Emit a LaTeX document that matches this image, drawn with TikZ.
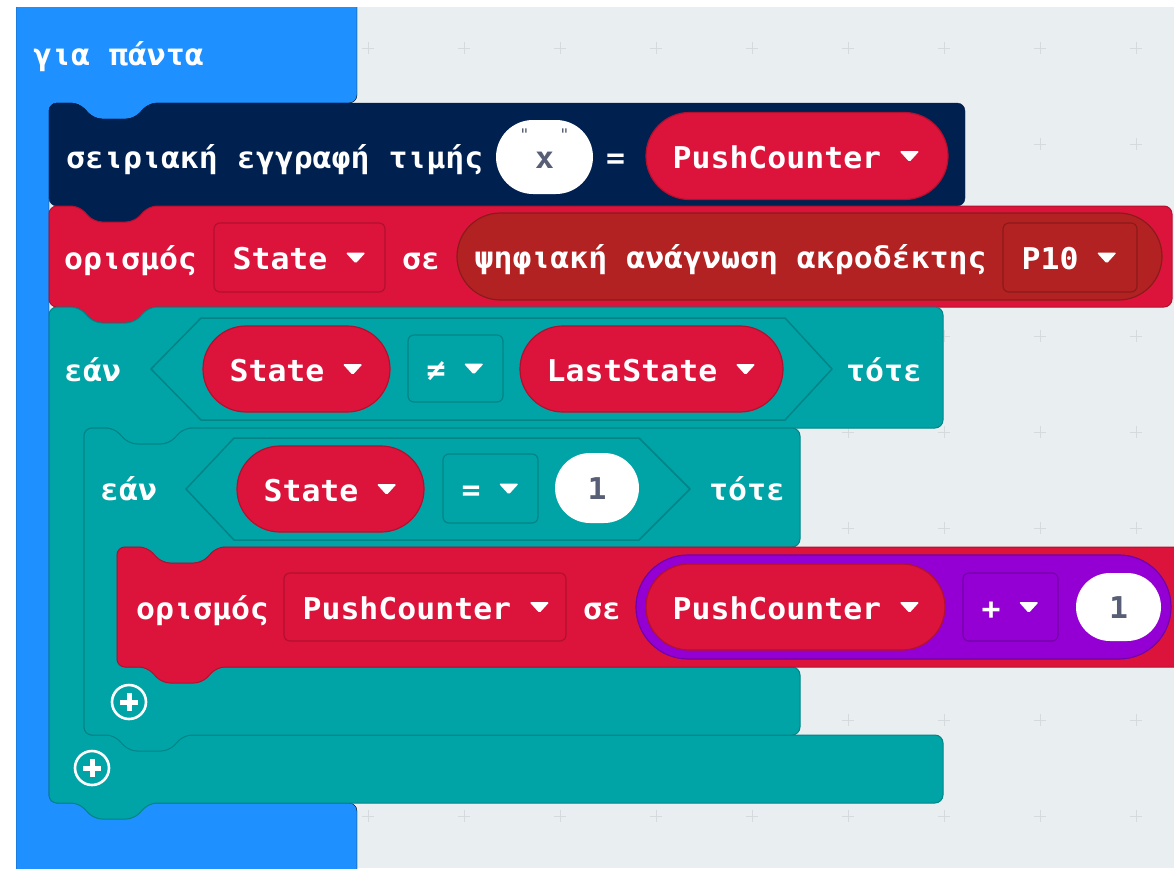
\documentclass[tikz,border=0pt]{standalone}
\usepackage{fontspec}
\usetikzlibrary{shapes.misc}
\newfontfamily\blockfont{DejaVu Sans Mono}[FakeStretch=1.05]
\newcommand{\blk}{\blockfont\bfseries\fontsize{30}{36}\selectfont}
\definecolor{loopblue}{HTML}{1E90FF}
\definecolor{serialnavy}{HTML}{002050}
\definecolor{varred}{HTML}{DC143C}
\definecolor{varline}{HTML}{B3102F}
\definecolor{pinred}{HTML}{B22222}
\definecolor{pinline}{HTML}{8C1A1A}
\definecolor{logicteal}{HTML}{00A4A6}
\definecolor{logicline}{HTML}{008486}
\definecolor{mathpurple}{HTML}{9400D3}
\definecolor{mathline}{HTML}{7200A6}
\definecolor{workspace}{HTML}{E9EEF1}
\definecolor{gridmark}{HTML}{D5DADF}
\definecolor{numtext}{HTML}{575E75}
\newcommand{\stackblock}[5]{\filldraw[#1] (#2,{(#3+#5)/2}) -- (#2,#3) -- ++(30,0) -- ++(15,16) -- ++(40,0) -- ++(15,-16) -- (#4,#3) -- (#4,#5) -- (#2+100,#5) -- ++(-15,16) -- ++(-40,0) -- ++(-15,-16) -- (#2,#5) -- cycle;}
\newcommand{\cblock}[8]{\filldraw[#1] (#2,#7) -- (#2,#4) -- ++(30,0) -- ++(15,16) -- ++(40,0) -- ++(15,-16) -- (#5,#4) -- (#5,#6) -- (#3+100,#6) -- ++(-15,16) -- ++(-40,0) -- ++(-15,-16) -- (#3,#6) -- (#3,#7) -- (#5,#7) -- (#5,#8) -- (#2+100,#8) -- ++(-15,16) -- ++(-40,0) -- ++(-15,-16) -- (#2,#8) -- cycle;}
\newcommand{\ddtri}[1]{\fill[white, rounded corners=1.5pt] ([shift={(18,-17)}]#1.base east) -- ++(20,0) -- ++(-10,11) -- cycle;}
\newcommand{\addicon}[1]{\draw[white, line width=2.6pt] (#1) circle (17); \draw[white, line width=5pt] ([xshift=-9pt]#1) -- ([xshift=9pt]#1) ([yshift=-9pt]#1) -- ([yshift=9pt]#1);}

\begin{document}
\begin{tikzpicture}[x=1pt, y=-1pt,
    lbl/.style={anchor=base west, inner sep=0pt, text=white, font=\blk},
    numlbl/.style={anchor=base, inner sep=0pt, text=numtext, font=\blk},
    quotelbl/.style={inner sep=0pt, text=numtext, font=\blockfont\fontsize{16}{16}\selectfont},
    pill/.style={rounded rectangle, inner sep=0pt, line width=1.2pt},
    varpill/.style={pill, fill=varred, draw=varline},
    pinpill/.style={pill, fill=pinred, draw=pinline},
    mathpill/.style={pill, fill=mathpurple, draw=mathline},
    numpill/.style={pill, fill=white},
    ddbox/.style={rectangle, rounded corners=6pt, inner sep=0pt, line width=1.2pt},
    vardd/.style={ddbox, fill=varred, draw=varline},
    pindd/.style={ddbox, fill=pinred, draw=pinline},
    logicdd/.style={ddbox, fill=logicteal, draw=logicline},
    mathdd/.style={ddbox, fill=mathpurple, draw=mathline},
    hexslot/.style={fill=logicteal, draw=logicline, line width=1.5pt, line join=round},
    loopblock/.style={fill=loopblue, rounded corners=8pt},
    navyblock/.style={fill=serialnavy, draw=serialnavy, rounded corners=8pt},
    redblock/.style={fill=varred, draw=varline, line width=1pt, rounded corners=8pt},
    tealblock/.style={fill=logicteal, draw=logicline, line width=1pt, rounded corners=8pt},
  ]
  \useasboundingbox (0,0) rectangle (1174,868);
  \fill[white] (0,0) rectangle (1174,868);
  \begin{scope}
    \clip (16,7) rectangle (1174,868);
    \fill[workspace] (16,7) rectangle (1174,868);
    \foreach \gx in {368,464,...,1136}
      \foreach \gy in {48,144,...,816}
        \draw[gridmark, line width=1pt] (\gx-6,\gy) -- (\gx+6,\gy) (\gx,\gy-6) -- (\gx,\gy+6);

    \filldraw[loopblock] (16,-20) -- (357,-20) -- (357,103) -- (149,103) -- ++(-15,16) -- ++(-40,0) -- ++(-15,-16) -- (49,103) -- (49,803) -- (357,803) -- (357,900) -- (16,900) -- cycle;
    \node[lbl] (forevertxt) at (33,65) {για πάντα};

    \stackblock{navyblock}{49}{103}{965}{206}
    \stackblock{redblock}{49}{206}{1172}{307}
    \cblock{tealblock}{49}{84}{307}{943}{428}{735}{803}
    \cblock{tealblock}{84}{117}{428}{800}{547}{667}{735}
    \stackblock{redblock}{117}{547}{1200}{667}

    \node[lbl] (serialtxt) at (66,168) {σειριακή εγγραφή τιμής};
    \node[numpill, minimum width=97, minimum height=74] (xpill) at (544.5,157) {};
    \node[numlbl] (xtxt) at ([yshift=-11pt]xpill.center) {x};
    \node[quotelbl] (xopen) at ([shift={(-20,-22)}]xpill.center) {"};
    \node[quotelbl] (xclose) at ([shift={(20,-22)}]xpill.center) {"};
    \node[lbl] (eqtxt) at (606,168) {=};
    \node[varpill, minimum width=302, minimum height=87] (pcpill) at (797,156) {};
    \node[lbl] (pctxt) at ([shift={(27,12)}]pcpill.west) {PushCounter};
    \ddtri{pctxt}

    \node[lbl] (settxt) at (64,269) {ορισμός};
    \node[vardd, minimum width=171, minimum height=69] (statedd) at (299.5,257.5) {};
    \node[lbl] (statetxt) at ([shift={(19,12)}]statedd.west) {State};
    \ddtri{statetxt}
    \node[lbl] (settotxt) at (402,269) {σε};
    \node[pinpill, minimum width=705, minimum height=87] (readpill) at (809.5,256.5) {};
    \node[lbl] (readtxt) at ([shift={(18,12)}]readpill.west) {ψηφιακή ανάγνωση ακροδέκτης};
    \node[pindd, minimum width=134, minimum height=69] (pindd) at (1070,257.5) {};
    \node[lbl] (pintxt) at ([shift={(19,12)}]pindd.west) {P10};
    \ddtri{pintxt}

    \node[lbl] (iftxt) at (64,381) {εάν};
    \filldraw[hexslot] (151,369) -- (201,318) -- (785,318) -- (832,369) -- (785,420) -- (201,420) -- cycle;
    \node[varpill, minimum width=187, minimum height=86] (stpill) at (296.5,369) {};
    \node[lbl] (sttxt) at ([shift={(27,12)}]stpill.west) {State};
    \ddtri{sttxt}
    \node[logicdd, minimum width=95, minimum height=67] (neqdd) at (455.5,368.5) {};
    \node[lbl] (neqtxt) at ([shift={(19,12)}]neqdd.west) {≠};
    \ddtri{neqtxt}
    \node[varpill, minimum width=263, minimum height=86] (lastpill) at (651.5,369) {};
    \node[lbl] (lasttxt) at ([shift={(27,12)}]lastpill.west) {LastState};
    \ddtri{lasttxt}
    \node[lbl] (thentxt) at (846,381) {τότε};

    \node[lbl] (ifintxt) at (100,500) {εάν};
    \filldraw[hexslot] (186,489) -- (234,438) -- (639,438) -- (690,489) -- (639,540) -- (234,540) -- cycle;
    \node[varpill, minimum width=187, minimum height=86] (stinpill) at (330.5,489) {};
    \node[lbl] (stintxt) at ([shift={(27,12)}]stinpill.west) {State};
    \ddtri{stintxt}
    \node[logicdd, minimum width=95, minimum height=69] (eqdd) at (490.5,488.5) {};
    \node[lbl] (eqddtxt) at ([shift={(19,12)}]eqdd.west) {=};
    \ddtri{eqddtxt}
    \node[numpill, minimum width=84, minimum height=70] (onepill) at (597,488) {};
    \node[numlbl] (onetxt) at ([yshift=-11pt]onepill.center) {1};
    \node[lbl] (thenintxt) at (709,500) {τότε};

    \node[lbl] (incrtxt) at (136,619) {ορισμός};
    \node[vardd, minimum width=282, minimum height=68] (pcdd) at (425,607) {};
    \node[lbl] (pcddtxt) at ([shift={(19,12)}]pcdd.west) {PushCounter};
    \ddtri{pcddtxt}
    \node[lbl] (incrtotxt) at (583,619) {σε};
    \node[mathpill, minimum width=535, minimum height=104] (sumpill) at (903.5,607) {};
    \node[varpill, minimum width=299, minimum height=86] (pcinpill) at (795.5,607) {};
    \node[lbl] (pcintxt) at ([shift={(27,12)}]pcinpill.west) {PushCounter};
    \ddtri{pcintxt}
    \node[mathdd, minimum width=95, minimum height=68] (plusdd) at (1010.5,607) {};
    \node[lbl] (plustxt) at ([shift={(19,12)}]plusdd.west) {+};
    \ddtri{plustxt}
    \node[numpill, minimum width=85, minimum height=68] (onebpill) at (1118.5,607) {};
    \node[numlbl] (onebtxt) at ([yshift=-11pt]onebpill.center) {1};

    \coordinate (addin) at (129,702);
    \coordinate (addout) at (92,768);
    \addicon{addin}
    \addicon{addout}
  \end{scope}
\end{tikzpicture}
\end{document}
